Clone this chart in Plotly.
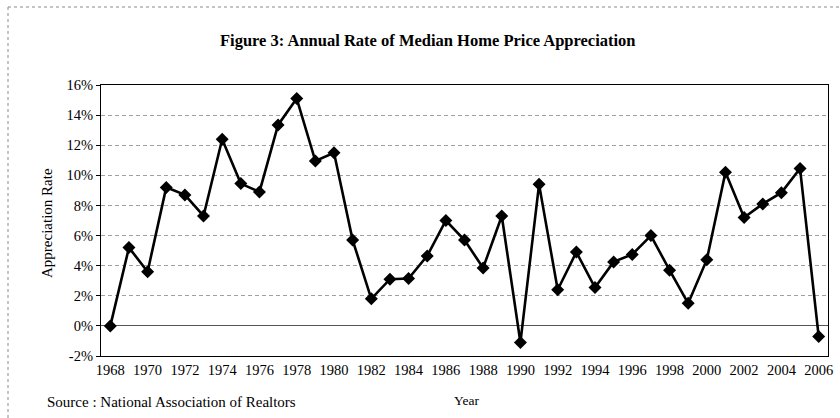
import plotly.graph_objects as go

years = list(range(1968, 2007))
rates = [0.0, 5.2, 3.6, 9.2, 8.7, 7.3, 12.4, 9.45, 8.9, 13.35, 15.1, 10.95, 11.5,
         5.7, 1.8, 3.1, 3.15, 4.65, 7.0, 5.7, 3.85, 7.3, -1.1, 9.4, 2.4, 4.9,
         2.55, 4.25, 4.75, 6.0, 3.7, 1.5, 4.4, 10.2, 7.2, 8.1, 8.85, 10.45, -0.7]
y_ticks = [-2, 0, 2, 4, 6, 8, 10, 12, 14, 16]
y_labels = [f"{v}%" for v in y_ticks]
x_ticks = list(range(1968, 2007, 2))

title_text = "Figure 3: Annual Rate of Median Home Price Appreciation"
y_title = "Appreciation Rate"
x_title = "Year"
source_text = "Source : National Association of Realtors"

serif = "Liberation Serif, Times New Roman, serif"

fig = go.Figure()
fig.add_trace(go.Scatter(
    x=years, y=rates, mode="lines+markers",
    line=dict(color="black", width=2.6),
    marker=dict(symbol="diamond", size=10, color="black"),
    hoverinfo="x+y", showlegend=False,
))

L, R, T, B = 101, 12, 85, 62
W, H = 840, 418
pw, ph = W - L - R, H - T - B

def px_x(p):
    return (p - L) / pw

def px_y(p):
    return (H - B - p) / ph

fig.update_layout(
    width=W, height=H,
    margin=dict(l=L, r=R, t=T, b=B, autoexpand=False),
    paper_bgcolor="white", plot_bgcolor="white",
    font=dict(family=serif, color="black"),
    xaxis=dict(
        range=[1967.5, 2006.5], tickmode="array", tickvals=x_ticks,
        ticktext=[str(v) for v in x_ticks],
        showgrid=False, zeroline=False,
        showline=True, linecolor="black", linewidth=1.2, mirror=True,
        ticks="", tickfont=dict(family=serif, size=14.5, color="black"),
    ),
    yaxis=dict(
        range=[-2, 16], tickmode="array", tickvals=y_ticks, ticktext=y_labels,
        showgrid=True, gridcolor="#a0a0a0", griddash="4px,3px", gridwidth=1,
        zeroline=True, zerolinecolor="#555555", zerolinewidth=1.2,
        showline=True, linecolor="black", linewidth=1.2, mirror=True,
        ticks="outside", ticklen=4, tickcolor="black",
        tickfont=dict(family=serif, size=14.5, color="black"),
    ),
    annotations=[
        dict(text=f"<b>{title_text}</b>", x=px_x(428), y=px_y(41), xref="paper", yref="paper",
             showarrow=False, xanchor="center", yanchor="middle",
             font=dict(family=serif, size=16.5, color="black")),
        dict(text=y_title, x=px_x(47), y=px_y(223), xref="paper", yref="paper",
             showarrow=False, xanchor="center", yanchor="middle", textangle=-90,
             font=dict(family=serif, size=15, color="black")),
        dict(text=x_title, x=px_x(466), y=px_y(400), xref="paper", yref="paper",
             showarrow=False, xanchor="center", yanchor="middle",
             font=dict(family=serif, size=13.5, color="black")),
        dict(text=source_text, x=px_x(45), y=px_y(402), xref="paper", yref="paper",
             showarrow=False, xanchor="left", yanchor="middle",
             font=dict(family=serif, size=15, color="black")),
    ],
    shapes=[
        dict(type="line", xref="paper", yref="paper", x0=px_x(8), x1=px_x(840),
             y0=px_y(7), y1=px_y(7), line=dict(color="#8a8a8a", width=1, dash="dot")),
        dict(type="line", xref="paper", yref="paper", x0=px_x(8), x1=px_x(8),
             y0=px_y(7), y1=px_y(418), line=dict(color="#8a8a8a", width=1, dash="dot")),
    ],
)

fig.write_html("out.html", config={"displayModeBar": False},
               post_script="document.body.style.margin='0';document.body.style.overflow='hidden';")
